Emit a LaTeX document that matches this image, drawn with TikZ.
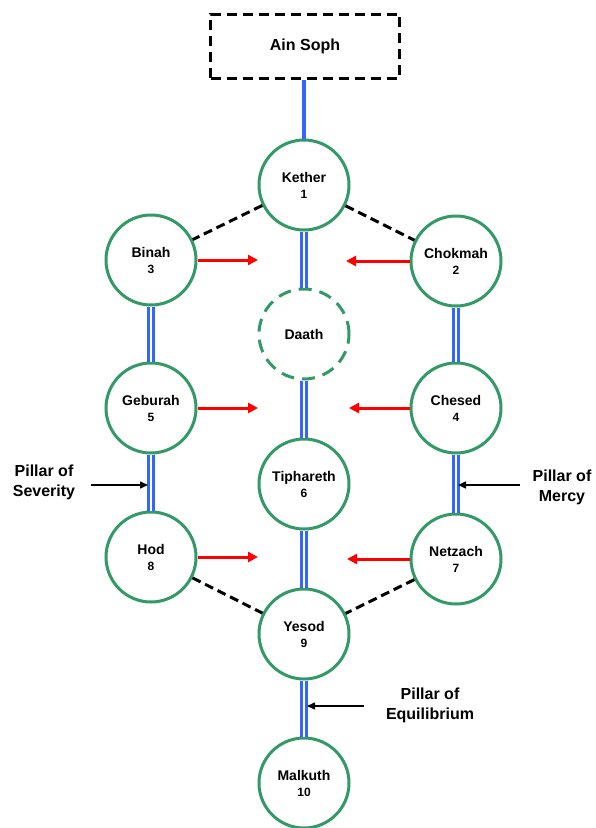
\documentclass[tikz,border=0pt]{standalone}
\usepackage{fontspec}
\setmainfont{Liberation Sans}
\usetikzlibrary{arrows.meta}
\definecolor{sgreen}{RGB}{51,153,102}
\definecolor{pblue}{RGB}{51,102,255}
\begin{document}
\begin{tikzpicture}[x=1pt,y=-1pt,
  sefira/.style={circle,draw=sgreen,line width=3pt,minimum size=90pt,inner sep=0pt,align=center,
    font=\fontsize{14}{16}\selectfont\bfseries},
  hidden/.style={sefira,dash pattern=on 13pt off 8pt},
  veilbox/.style={rectangle,draw=black,line width=3pt,dash pattern=on 10pt off 6pt,
    minimum width=189pt,minimum height=64pt,inner sep=0pt,font=\fontsize{16}{19}\selectfont\bfseries},
  pillarline/.style={draw=pblue,line width=3pt,double=white,double distance=1.6pt},
  singleline/.style={draw=pblue,line width=3.2pt},
  veil/.style={draw=black,line width=3pt,dash pattern=on 9pt off 5pt},
  flow/.style={draw=red,line width=3pt,-{Triangle[length=10pt,width=10pt]}},
  pointer/.style={draw=black,line width=1.5pt,-{Triangle[length=8pt,width=7pt]}},
  lbl/.style={align=center,inner sep=0pt,font=\fontsize{16}{20}\selectfont\bfseries}]
\useasboundingbox (0,0) rectangle (595,828);
\newcommand{\nm}[1]{{\fontsize{12}{14}\selectfont #1}}
% nodes
\node[veilbox] (ain) at (305,46) {Ain Soph};
\node[sefira] (kether) at (304,185) {Kether\\\nm{1}};
\node[sefira] (binah) at (151,260) {Binah\\\nm{3}};
\node[sefira] (chokmah) at (456,261) {Chokmah\\\nm{2}};
\node[hidden] (daath) at (304,334) {Daath};
\node[sefira] (geburah) at (151,408) {Geburah\\\nm{5}};
\node[sefira] (chesed) at (456,408) {Chesed\\\nm{4}};
\node[sefira] (tiph) at (304,484) {Tiphareth\\\nm{6}};
\node[sefira] (hod) at (151,557) {Hod\\\nm{8}};
\node[sefira] (netzach) at (456,559) {Netzach\\\nm{7}};
\node[sefira] (yesod) at (304,634) {Yesod\\\nm{9}};
\node[sefira] (malkuth) at (304,783) {Malkuth\\\nm{10}};
% labels
\node[lbl] (sev) at (44,482) {Pillar of\\Severity};
\node[lbl] (mercy) at (562,487) {Pillar of\\Mercy};
\node[lbl] (equi) at (430,705) {Pillar of\\Equilibrium};
% free ends
\coordinate (b1) at (258,260);
\coordinate (c1) at (346,261);
\coordinate (g1) at (258,408);
\coordinate (h1) at (349,408);
\coordinate (o1) at (258,557);
\coordinate (n1) at (347,559);
\coordinate (sevA) at (91,485);
\coordinate (sevB) at (148,485);
\coordinate (merA) at (520,485);
\coordinate (merB) at (458,485);
\coordinate (eqA) at (364,706);
\coordinate (eqB) at (307,706);
% connectors
\draw[singleline] (ain.south -| kether) -- (kether.north);
\draw[pillarline] (kether.south) -- (daath.north);
\draw[pillarline] (daath.south) -- (tiph.north);
\draw[pillarline] (tiph.south) -- (yesod.north);
\draw[pillarline] (yesod.south) -- (malkuth.north);
\draw[pillarline] (binah.south) -- (geburah.north);
\draw[pillarline] (geburah.south) -- (hod.north);
\draw[pillarline] (chokmah.south) -- (chesed.north);
\draw[pillarline] (chesed.south) -- (netzach.north);
\draw[veil] (kether) -- (binah);
\draw[veil] (kether) -- (chokmah);
\draw[veil] (hod) -- (yesod);
\draw[veil] (netzach) -- (yesod);
\draw[flow] (binah.east |- b1) -- (b1);
\draw[flow] (chokmah.west |- c1) -- (c1);
\draw[flow] (geburah.east |- g1) -- (g1);
\draw[flow] (chesed.west |- h1) -- (h1);
\draw[flow] (hod.east |- o1) -- (o1);
\draw[flow] (netzach.west |- n1) -- (n1);
\draw[pointer] (sevA) -- (sevB);
\draw[pointer] (merA) -- (merB);
\draw[pointer] (eqA) -- (eqB);
\end{tikzpicture}
\end{document}
